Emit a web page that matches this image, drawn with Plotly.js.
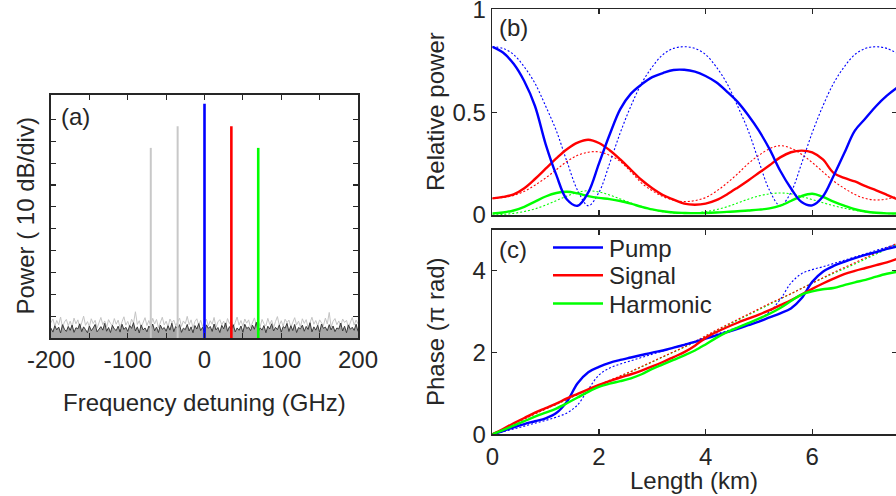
<!DOCTYPE html>
<html>
<head>
<meta charset="utf-8">
<script src="https://cdn.plot.ly/plotly-3.0.1.min.js"></script>
<style>
html,body{margin:0;padding:0;overflow:hidden;background:#fff;}
#chart{width:900px;height:496px;}
</style>
</head>
<body>
<div id="chart"></div>
<script>
// ---------- Panel (a): spectrum ----------
const spikeFreq = [-70, -35, 0, 35, 70];          // GHz
const spikeLevel = [8.70, 9.69, 10.72, 9.69, 8.70]; // divisions above floor
const spikeName = ['Idler 2', 'Idler 1', 'Pump', 'Signal', 'Harmonic'];
const spikeColor = ['#c8c8c8', '#c8c8c8', '#0000ff', '#ff0000', '#00ff00'];

const noiseLight = [
0.70,0.87,0.53,0.80,0.60,0.96,0.47,0.73,0.85,0.56,
0.77,0.50,0.91,0.65,0.83,0.44,0.69,1.00,0.58,0.75,
0.52,0.88,0.66,0.81,0.45,0.72,0.94,0.61,0.78,0.49,
0.84,0.67,0.55,0.89,0.63,0.82,0.46,0.74,0.97,0.59,
0.76,0.51,0.86,0.68,1.20,0.62,0.79,0.48,0.71,0.93,
0.57,0.80,0.54,0.90,0.64,0.85,0.47,0.73,0.95,0.60,
0.77,0.50,0.87,0.69,0.82,0.56,0.72,0.91,0.53,0.78,
0.65,0.99,0.61,0.83,0.46,0.75,0.88,0.58,0.81,0.52,
0.70,0.86,0.55,0.79,0.63,0.94,0.49,0.74,0.84,0.60,
0.77,0.52,0.89,0.66,0.82,0.45,0.71,0.96,0.59,0.80,
0.54,0.87,0.68,0.83,0.48,0.73,0.92,0.61,0.78,0.51,
0.85,0.65,0.56,0.90,0.62,0.81,0.47,0.75,0.98,0.58,
0.79,0.53,0.86,0.70,0.82,0.49,0.72,0.93,0.60,0.77,
0.51,0.88,0.67,0.84,0.46,0.74,0.95,0.63,0.80,0.55,
0.83,0.69,0.57,0.91,0.64,1.17,0.50,0.76,0.89,0.61,
0.78,0.53,0.87,0.71,0.81,0.48,0.73,0.94,0.59,0.82,
0.65];
const noiseDark = [
0.45,0.27,0.56,0.37,0.50,0.23,0.61,0.40,0.30,0.53,
0.35,0.59,0.26,0.47,0.42,0.65,0.29,0.51,0.38,0.24,
0.55,0.33,0.46,0.62,0.28,0.43,0.52,0.36,0.67,0.31,
0.48,0.25,0.58,0.41,0.34,0.54,0.27,0.63,0.39,0.49,
0.30,0.57,0.44,0.70,0.32,0.51,0.23,0.60,0.37,0.46,
0.28,0.55,0.42,0.64,0.33,0.50,0.25,0.59,0.40,0.48,
0.31,0.56,0.36,0.68,0.29,0.53,0.43,0.61,0.26,0.45,
0.38,0.62,0.32,0.51,0.24,0.57,0.41,0.66,0.34,0.49,
0.27,0.60,0.44,0.53,0.30,0.64,0.37,0.48,0.25,0.58,
0.42,0.69,0.31,0.52,0.39,0.61,0.28,0.46,0.35,0.55,
0.26,0.63,0.43,0.50,0.33,0.59,0.40,0.72,0.29,0.47,
0.36,0.57,0.24,0.54,0.41,0.65,0.32,0.49,0.38,0.60,
0.27,0.52,0.45,0.67,0.30,0.56,0.34,0.62,0.25,0.48,
0.42,0.59,0.31,0.53,0.39,0.70,0.28,0.51,0.36,0.58,
0.26,0.64,0.44,0.50,0.33,0.61,0.37,0.55,0.29,0.46,
0.41,0.68,0.32,0.54,0.24,0.60,0.40,0.49,0.35,0.63,
0.30];
const noiseStart = -200, noiseStep = 2.5;
const freqTicks = [-200,-150,-100,-50,0,50,100,150,200];
const freqTickText = ['-200','','-100','','0','','100','','200'];
const divTicks = [0,1,2,3,4,5,6,7,8,9,10];

// ---------- Panels (b) and (c) ----------
const lengthKm = [0,0.2,0.4,0.6,0.8,1.0,1.2,1.4,1.6,1.8,2.0,2.2,2.4,2.6,2.8,3.0,3.2,3.4,3.6,3.8,
                  4.0,4.2,4.4,4.6,4.8,5.0,5.2,5.4,5.6,5.8,6.0,6.2,6.4,6.6,6.8,7.0,7.2,7.4,7.6];

const pumpPower = [0.818,0.79,0.735,0.65,0.53,0.345,0.195,0.075,0.045,0.11,0.25,0.39,0.515,0.59,0.635,0.67,0.69,0.705,0.706,0.697,
                   0.676,0.645,0.60,0.55,0.485,0.41,0.32,0.215,0.13,0.063,0.047,0.09,0.19,0.30,0.41,0.47,0.53,0.58,0.62];
const pumpPowerTh = [0.818,0.81,0.78,0.72,0.64,0.53,0.41,0.26,0.12,0.045,0.11,0.25,0.40,0.53,0.64,0.72,0.78,0.81,0.818,0.81,
                     0.78,0.72,0.64,0.53,0.41,0.26,0.12,0.045,0.11,0.25,0.40,0.53,0.64,0.72,0.78,0.81,0.818,0.81,0.785];
const signalPower = [0.081,0.088,0.10,0.13,0.175,0.225,0.275,0.32,0.352,0.366,0.35,0.315,0.27,0.22,0.17,0.13,0.097,0.075,0.055,0.05,
                     0.055,0.072,0.10,0.133,0.168,0.205,0.242,0.28,0.305,0.313,0.305,0.27,0.205,0.18,0.163,0.14,0.12,0.098,0.076];
const signalPowerTh = [0.081,0.085,0.095,0.115,0.145,0.18,0.22,0.26,0.29,0.305,0.307,0.29,0.26,0.21,0.155,0.118,0.09,0.072,0.065,0.07,
                       0.085,0.115,0.155,0.20,0.25,0.29,0.322,0.337,0.325,0.295,0.255,0.21,0.165,0.13,0.10,0.08,0.073,0.078,0.09];
const harmonicPower = [0.008,0.012,0.022,0.04,0.065,0.09,0.107,0.113,0.105,0.092,0.083,0.077,0.068,0.055,0.04,0.027,0.018,0.012,0.01,0.009,
                       0.01,0.012,0.015,0.018,0.022,0.026,0.032,0.045,0.068,0.092,0.103,0.088,0.065,0.045,0.028,0.017,0.011,0.008,0.007];
const harmonicPowerTh = [0.0,0.003,0.008,0.017,0.03,0.048,0.07,0.092,0.11,0.118,0.112,0.097,0.078,0.058,0.04,0.026,0.016,0.01,0.008,0.01,
                         0.016,0.026,0.04,0.058,0.077,0.093,0.103,0.107,0.103,0.09,0.075,0.06,0.045,0.033,0.023,0.015,0.01,0.007,0.006];

const pumpPhase = [0,0.08,0.17,0.25,0.32,0.39,0.52,0.8,1.25,1.52,1.65,1.75,1.82,1.88,1.94,2.0,2.05,2.12,2.19,2.26,
                   2.34,2.42,2.5,2.58,2.67,2.76,2.86,2.96,3.08,3.33,3.73,3.98,4.12,4.22,4.31,4.39,4.46,4.54,4.6];
const pumpPhaseTh = [0,0.06,0.13,0.2,0.27,0.34,0.42,0.52,0.72,1.1,1.45,1.62,1.72,1.8,1.88,1.96,2.04,2.12,2.2,2.28,
                     2.37,2.45,2.53,2.62,2.72,2.83,3.0,3.3,3.7,3.93,4.03,4.1,4.18,4.26,4.34,4.42,4.5,4.58,4.66];
const signalPhase = [0,0.13,0.27,0.4,0.53,0.64,0.75,0.88,0.99,1.1,1.21,1.3,1.39,1.47,1.56,1.66,1.77,1.89,2.01,2.17,
                     2.36,2.5,2.62,2.73,2.83,2.93,3.04,3.16,3.28,3.42,3.56,3.69,3.81,3.92,4.0,4.07,4.14,4.21,4.3];
const signalPhaseTh = [0,0.12,0.25,0.37,0.5,0.62,0.74,0.86,0.98,1.1,1.21,1.32,1.43,1.54,1.66,1.78,1.9,2.02,2.14,2.27,
                       2.41,2.55,2.68,2.81,2.94,3.07,3.2,3.32,3.44,3.57,3.7,3.83,3.96,4.08,4.2,4.32,4.44,4.56,4.68];
const harmonicPhase = [0,0.1,0.21,0.32,0.43,0.53,0.63,0.76,0.9,1.04,1.16,1.24,1.3,1.37,1.47,1.6,1.71,1.82,1.93,2.05,
                       2.2,2.36,2.5,2.61,2.72,2.83,2.95,3.09,3.26,3.42,3.5,3.55,3.58,3.65,3.72,3.78,3.86,3.93,3.98];
const harmonicPhaseTh = [0,0.13,0.26,0.38,0.5,0.62,0.73,0.85,0.97,1.08,1.19,1.3,1.41,1.53,1.65,1.77,1.89,2.01,2.13,2.26,
                         2.39,2.53,2.66,2.79,2.92,3.05,3.18,3.31,3.44,3.57,3.7,3.82,3.94,4.05,4.17,4.29,4.41,4.53,4.65];

const seriesNames = ['Pump', 'Signal', 'Harmonic'];
const seriesColors = ['#0000ff', '#ff0000', '#00ff00'];

// ---------- build traces ----------
const W = 900, H = 496;
const px = v => v / W, py = v => 1 - v / H;
const noiseX = noiseLight.map((_, i) => noiseStart + i * noiseStep);

const traces = [];
traces.push({x: noiseX, y: noiseLight, xaxis: 'x', yaxis: 'y', mode: 'lines',
  line: {color: '#c4c4c4', width: 1}, showlegend: false, hoverinfo: 'skip'});
traces.push({x: noiseX, y: noiseDark, xaxis: 'x', yaxis: 'y', mode: 'lines',
  line: {color: '#3a3a3a', width: 1}, fill: 'tozeroy', fillcolor: 'rgba(75,75,75,0.5)',
  showlegend: false, hoverinfo: 'skip'});
spikeFreq.forEach((f, i) => {
  traces.push({x: [f, f], y: [0, spikeLevel[i]], xaxis: 'x', yaxis: 'y', mode: 'lines',
    name: spikeName[i], line: {color: spikeColor[i], width: i < 2 ? 2 : 2.6}, showlegend: false});
});

const powerMeas = [pumpPower, signalPower, harmonicPower];
const powerTh = [pumpPowerTh, signalPowerTh, harmonicPowerTh];
const phaseMeas = [pumpPhase, signalPhase, harmonicPhase];
const phaseTh = [pumpPhaseTh, signalPhaseTh, harmonicPhaseTh];
const dotted = '2px,2px';

for (let k = 2; k >= 0; k--) {
  traces.push({x: lengthKm, y: powerTh[k], xaxis: 'x2', yaxis: 'y2', mode: 'lines',
    line: {color: seriesColors[k], width: 1.1, dash: dotted, shape: 'spline'}, showlegend: false});
  traces.push({x: lengthKm, y: phaseTh[k], xaxis: 'x3', yaxis: 'y3', mode: 'lines',
    line: {color: seriesColors[k], width: 1.1, dash: dotted, shape: 'spline'}, showlegend: false});
}
for (let k = 2; k >= 0; k--) {
  traces.push({x: lengthKm, y: powerMeas[k], xaxis: 'x2', yaxis: 'y2', mode: 'lines',
    line: {color: seriesColors[k], width: 2.4, shape: 'spline'}, showlegend: false});
}
for (let k = 0; k < 3; k++) {
  traces.push({x: lengthKm, y: phaseMeas[k], xaxis: 'x3', yaxis: 'y3', mode: 'lines',
    name: seriesNames[k], line: {color: seriesColors[k], width: 2.4, shape: 'spline'}, showlegend: false});
}

const font = 'Liberation Sans, Arial, Helvetica, sans-serif';
const ink = '#262626';
const FS = 24;
const axBase = {showline: true, linecolor: ink, linewidth: 1.6, mirror: 'ticks', ticks: 'inside',
  ticklen: 5, tickwidth: 1.2, tickcolor: ink, showgrid: false, zeroline: false,
  tickfont: {family: font, size: FS, color: ink}, fixedrange: true, ticklabeloverflow: 'allow'};

// manual legend (line samples + labels) in panel (c)
const legendRowsY = [247.5, 275.2, 303.5];
const legendShapes = seriesNames.map((n, k) => ({type: 'line', xref: 'paper', yref: 'paper',
  x0: px(553), x1: px(603), y0: py(legendRowsY[k]), y1: py(legendRowsY[k]),
  line: {color: seriesColors[k], width: 2.4}}));
const legendTexts = seriesNames.map((n, k) => ({text: n, x: px(607), y: py(legendRowsY[k] + 0.5),
  xanchor: 'left', yanchor: 'middle'}));

const layout = {
  width: W, height: H, margin: {l: 0, r: 0, t: 0, b: 0},
  paper_bgcolor: '#fff', plot_bgcolor: '#fff',
  font: {family: font, size: FS, color: ink},
  showlegend: false,
  xaxis: Object.assign({}, axBase, {domain: [px(51), px(358)], range: [-200, 200], anchor: 'y',
    tickmode: 'array', tickvals: freqTicks, ticktext: freqTickText}),
  yaxis: Object.assign({}, axBase, {domain: [py(338), py(95)], range: [0, 11.12], anchor: 'x',
    tickmode: 'array', tickvals: divTicks, showticklabels: false}),
  xaxis2: Object.assign({}, axBase, {domain: [px(492.3), px(897)], range: [0, 7.59], anchor: 'y2',
    tickmode: 'array', tickvals: [0,2,4,6], showticklabels: false}),
  yaxis2: Object.assign({}, axBase, {domain: [py(215), py(9.3)], range: [0, 1], anchor: 'x2',
    tickmode: 'array', tickvals: [0, 0.5, 1], ticktext: ['0', '0.5', '1']}),
  xaxis3: Object.assign({}, axBase, {domain: [px(492.3), px(897)], range: [0, 7.59], anchor: 'y3',
    tickmode: 'array', tickvals: [0,2,4,6]}),
  yaxis3: Object.assign({}, axBase, {domain: [py(434.3), py(230)], range: [0, 5], anchor: 'x3',
    tickmode: 'array', tickvals: [0,2,4]}),
  shapes: legendShapes,
  annotations: [
    {text: '(a)', x: px(59), y: py(116), xanchor: 'left', yanchor: 'middle'},
    {text: '(b)', x: px(497), y: py(28), xanchor: 'left', yanchor: 'middle'},
    {text: '(c)', x: px(497), y: py(249), xanchor: 'left', yanchor: 'middle'},
    {text: 'Power ( 10 dB/div)', x: px(25), y: py(216.5), textangle: -90, xanchor: 'center', yanchor: 'middle'},
    {text: 'Frequency detuning (GHz)', x: px(204), y: py(402), xanchor: 'center', yanchor: 'middle'},
    {text: 'Relative power', x: px(435), y: py(112), textangle: -90, xanchor: 'center', yanchor: 'middle'},
    {text: 'Phase (\u03c0 rad)', x: px(435), y: py(332), textangle: -90, xanchor: 'center', yanchor: 'middle'},
    {text: 'Length (km)', x: px(694), y: py(480), xanchor: 'center', yanchor: 'middle'}
  ].concat(legendTexts).map(a => Object.assign({xref: 'paper', yref: 'paper', showarrow: false,
    font: {family: font, size: FS, color: ink}}, a))
};

Plotly.newPlot('chart', traces, layout, {staticPlot: true, displayModeBar: false});
</script>
</body>
</html>
